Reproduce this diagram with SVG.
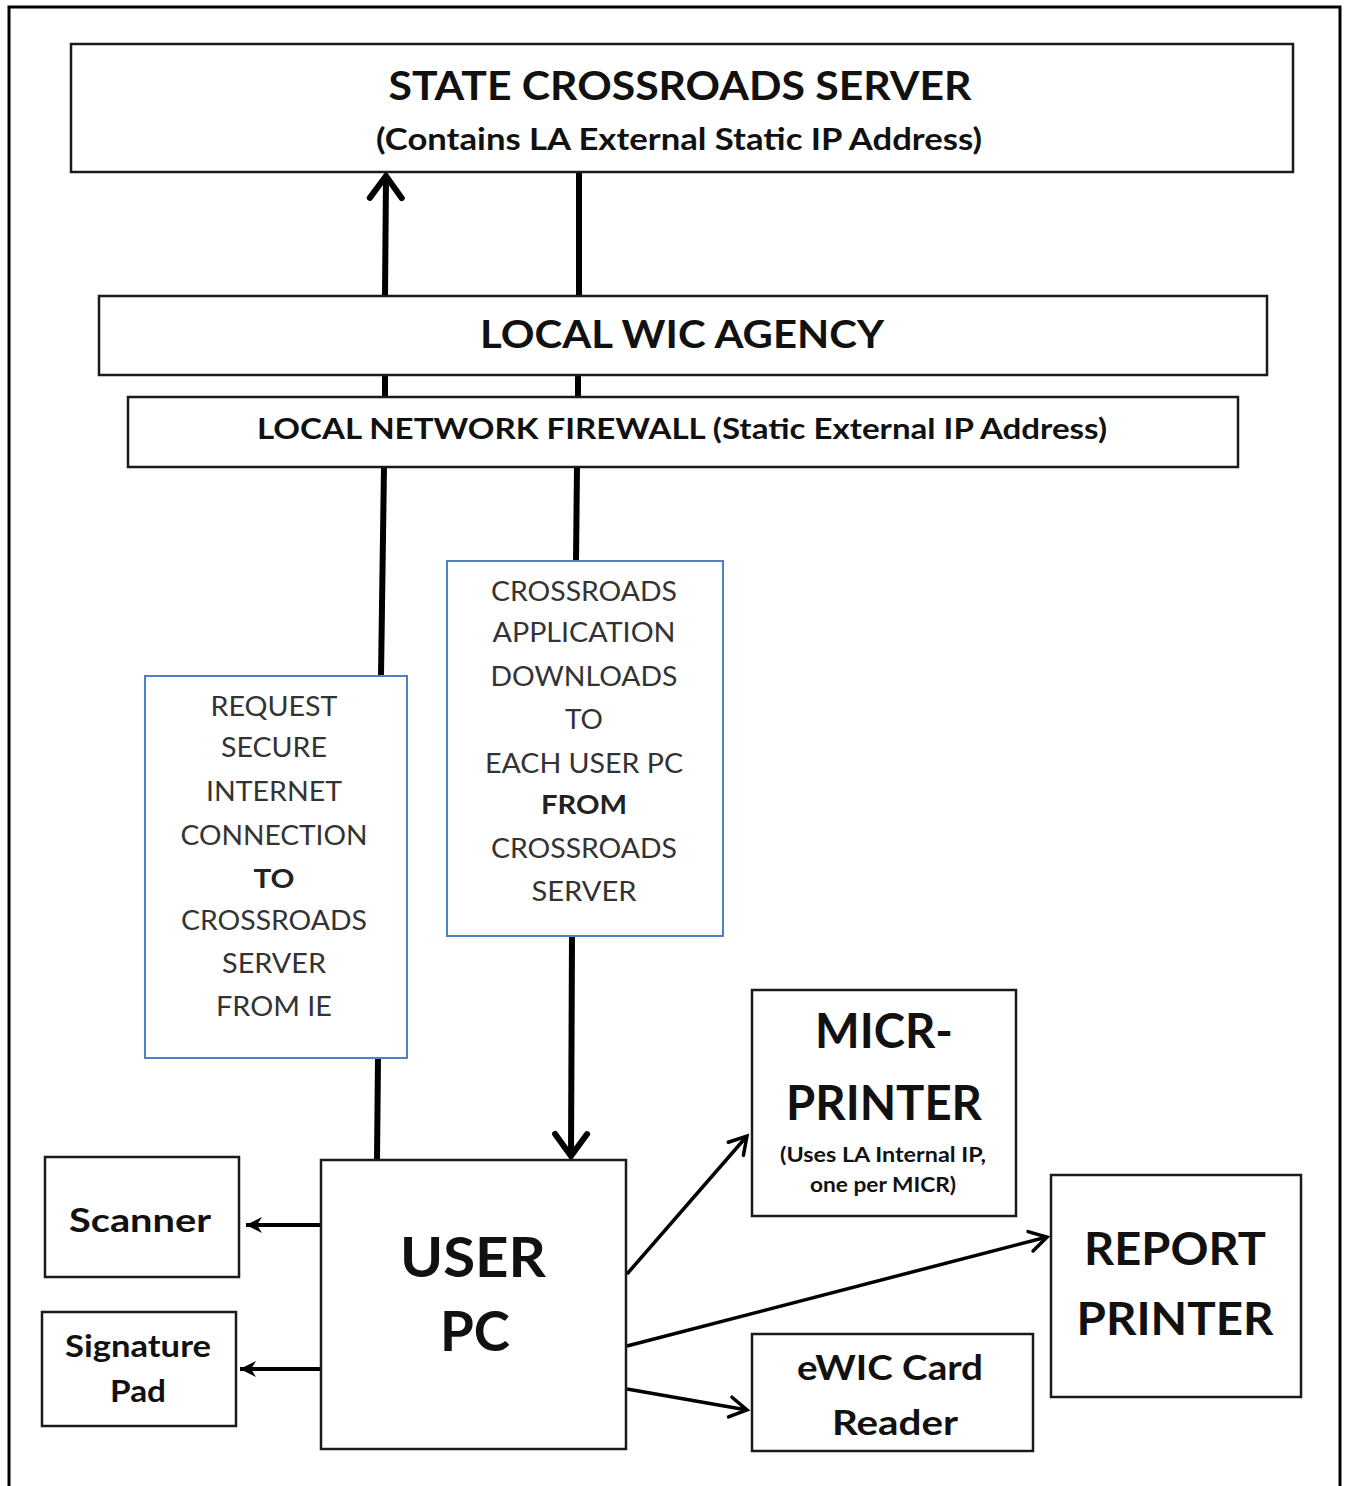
<svg xmlns="http://www.w3.org/2000/svg" width="1346" height="1486" viewBox="0 0 1346 1486">
<style>
.box{fill:#fff;stroke:#1a1a1a;stroke-width:2.5}
.bbox{fill:#fff;stroke:#4f81c7;stroke-width:2}
.t{font-family:Lato,"Open Sans",sans-serif;fill:#111;text-anchor:middle}
.b{font-weight:bold}
.r{font-weight:normal;fill:#333;font-size:27px}
.rb{font-weight:bold;fill:#222;font-size:27px}
.c{stroke:#000;fill:none}
</style>
<defs>
<marker id="bigArrow" markerUnits="userSpaceOnUse" viewBox="-30 -20 34 40" markerWidth="34" markerHeight="40" refX="0" refY="0" orient="auto">
<path d="M-22,-16 L0,0 L-22,16" fill="none" stroke="#000" stroke-width="6" stroke-linecap="round"/>
</marker>
<marker id="arrow" markerUnits="userSpaceOnUse" viewBox="-24 -14 28 28" markerWidth="28" markerHeight="28" refX="0" refY="0" orient="auto">
<path d="M-17,-10 L0,0 L-17,10" fill="none" stroke="#000" stroke-width="3.5" stroke-linecap="round"/>
</marker>
<marker id="solidArrow" markerUnits="userSpaceOnUse" viewBox="-20 -10 22 20" markerWidth="22" markerHeight="20" refX="0" refY="0" orient="auto">
<path d="M0,0 L-16,-8 L-11,0 L-16,8 Z" fill="#000"/>
</marker>
</defs>
<rect x="0" y="0" width="1346" height="1486" fill="#fff"/>
<rect id="frame" x="9" y="7" width="1331" height="1490" fill="none" stroke="#000" stroke-width="3"/>

<g id="connectors">
<line class="c" x1="385" y1="296" x2="386" y2="176" stroke-width="6" marker-end="url(#bigArrow)"/>
<line class="c" x1="579" y1="172" x2="579" y2="296" stroke-width="6"/>
<line class="c" x1="385" y1="375" x2="385" y2="396" stroke-width="6"/>
<line class="c" x1="578" y1="375" x2="578" y2="396" stroke-width="6"/>
<line class="c" x1="384" y1="467" x2="381" y2="676" stroke-width="6"/>
<line class="c" x1="577" y1="467" x2="576" y2="561" stroke-width="6"/>
<line class="c" x1="378" y1="1058" x2="377" y2="1160" stroke-width="6"/>
<line class="c" x1="572" y1="936" x2="571" y2="1156" stroke-width="6" marker-end="url(#bigArrow)"/>
<line class="c" x1="321" y1="1225" x2="246" y2="1225" stroke-width="4" marker-end="url(#solidArrow)"/>
<line class="c" x1="320" y1="1369" x2="240" y2="1369" stroke-width="4" marker-end="url(#solidArrow)"/>
<line class="c" x1="627" y1="1274" x2="747" y2="1136" stroke-width="3.5" marker-end="url(#arrow)"/>
<line class="c" x1="627" y1="1346" x2="1047" y2="1237" stroke-width="3.5" marker-end="url(#arrow)"/>
<line class="c" x1="627" y1="1389" x2="747" y2="1410" stroke-width="3.5" marker-end="url(#arrow)"/>
</g>

<g id="state-server">
<rect class="box" x="71" y="44" width="1222" height="128"/>
<text class="t b" x="680" y="100" font-size="40" textLength="583" lengthAdjust="spacingAndGlyphs">STATE CROSSROADS SERVER</text>
<text class="t b" x="679" y="150" font-size="30" textLength="606" lengthAdjust="spacingAndGlyphs">(Contains LA External Static IP Address)</text>
</g>

<g id="local-wic">
<rect class="box" x="99" y="296" width="1168" height="79"/>
<text class="t b" x="682" y="348" font-size="38" textLength="404" lengthAdjust="spacingAndGlyphs">LOCAL WIC AGENCY</text>
</g>

<g id="firewall">
<rect class="box" x="128" y="397" width="1110" height="70"/>
<text class="t b" x="682" y="439" font-size="29" textLength="850" lengthAdjust="spacingAndGlyphs">LOCAL NETWORK FIREWALL (Static External IP Address)</text>
</g>

<g id="request">
<rect class="bbox" x="145" y="676" width="262" height="382"/>
<text class="t r" x="274" y="716" textLength="127" lengthAdjust="spacingAndGlyphs">REQUEST</text>
<text class="t r" x="274" y="757" textLength="106" lengthAdjust="spacingAndGlyphs">SECURE</text>
<text class="t r" x="274" y="801" textLength="136" lengthAdjust="spacingAndGlyphs">INTERNET</text>
<text class="t r" x="274" y="845" textLength="187" lengthAdjust="spacingAndGlyphs">CONNECTION</text>
<text class="t rb" x="274" y="888" textLength="41" lengthAdjust="spacingAndGlyphs">TO</text>
<text class="t r" x="274" y="930" textLength="186" lengthAdjust="spacingAndGlyphs">CROSSROADS</text>
<text class="t r" x="274" y="973" textLength="104" lengthAdjust="spacingAndGlyphs">SERVER</text>
<text class="t r" x="274" y="1016" textLength="116" lengthAdjust="spacingAndGlyphs">FROM IE</text>
</g>

<g id="downloads">
<rect class="bbox" x="447" y="561" width="276" height="375"/>
<text class="t r" x="584" y="601" textLength="186" lengthAdjust="spacingAndGlyphs">CROSSROADS</text>
<text class="t r" x="584" y="642" textLength="183" lengthAdjust="spacingAndGlyphs">APPLICATION</text>
<text class="t r" x="584" y="686" textLength="187" lengthAdjust="spacingAndGlyphs">DOWNLOADS</text>
<text class="t r" x="584" y="729" textLength="38" lengthAdjust="spacingAndGlyphs">TO</text>
<text class="t r" x="584" y="773" textLength="198" lengthAdjust="spacingAndGlyphs">EACH USER PC</text>
<text class="t rb" x="584" y="814" textLength="86" lengthAdjust="spacingAndGlyphs">FROM</text>
<text class="t r" x="584" y="858" textLength="186" lengthAdjust="spacingAndGlyphs">CROSSROADS</text>
<text class="t r" x="584" y="901" textLength="105" lengthAdjust="spacingAndGlyphs">SERVER</text>
</g>

<g id="micr">
<rect class="box" x="752" y="990" width="264" height="226"/>
<text class="t b" x="884" y="1048" font-size="47" textLength="138" lengthAdjust="spacingAndGlyphs">MICR-</text>
<text class="t b" x="884" y="1120" font-size="47" textLength="196" lengthAdjust="spacingAndGlyphs">PRINTER</text>
<text class="t b" x="883" y="1162" font-size="20" textLength="206" lengthAdjust="spacingAndGlyphs">(Uses LA Internal IP,</text>
<text class="t b" x="883" y="1192" font-size="20" textLength="146" lengthAdjust="spacingAndGlyphs">one per MICR)</text>
</g>

<g id="user-pc">
<rect class="box" x="321" y="1160" width="305" height="289"/>
<text class="t b" x="473" y="1277" font-size="56" textLength="146" lengthAdjust="spacingAndGlyphs">USER</text>
<text class="t b" x="475" y="1351" font-size="56" textLength="70" lengthAdjust="spacingAndGlyphs">PC</text>
</g>

<g id="scanner">
<rect class="box" x="45" y="1157" width="194" height="120"/>
<text class="t b" x="140" y="1232" font-size="33" textLength="142" lengthAdjust="spacingAndGlyphs">Scanner</text>
</g>

<g id="signature-pad">
<rect class="box" x="42" y="1312" width="194" height="114"/>
<text class="t b" x="138" y="1357" font-size="31" textLength="146" lengthAdjust="spacingAndGlyphs">Signature</text>
<text class="t b" x="138" y="1402" font-size="31" textLength="56" lengthAdjust="spacingAndGlyphs">Pad</text>
</g>

<g id="report-printer">
<rect class="box" x="1051" y="1175" width="250" height="222"/>
<text class="t b" x="1175" y="1265" font-size="45" textLength="182" lengthAdjust="spacingAndGlyphs">REPORT</text>
<text class="t b" x="1175" y="1335" font-size="45" textLength="197" lengthAdjust="spacingAndGlyphs">PRINTER</text>
</g>

<g id="ewic">
<rect class="box" x="752" y="1334" width="281" height="117"/>
<text class="t b" x="890" y="1380" font-size="35" textLength="186" lengthAdjust="spacingAndGlyphs">eWIC Card</text>
<text class="t b" x="895" y="1435" font-size="35" textLength="126" lengthAdjust="spacingAndGlyphs">Reader</text>
</g>
</svg>
